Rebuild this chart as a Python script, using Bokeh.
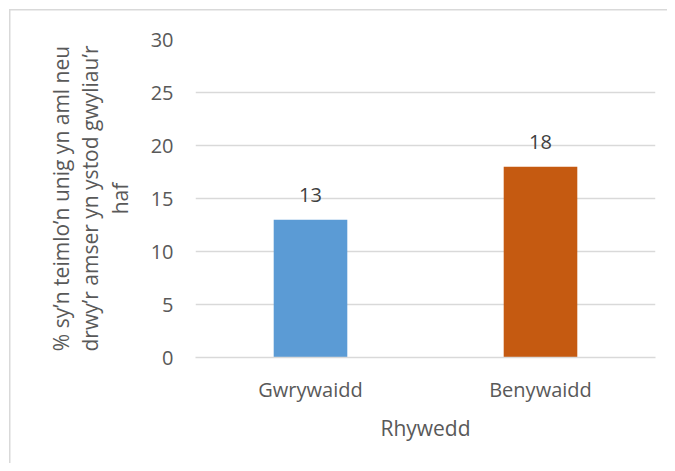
from bokeh.plotting import figure
from bokeh.models import ColumnDataSource, Range1d, FactorRange, FixedTicker
from bokeh.core.properties import value
from bokeh.embed import file_html
from bokeh.resources import INLINE

categories = ["Gwrywaidd", "Benywaidd"]
values = [13, 18]
colors = ["#5B9BD5", "#C55A11"]
labels = ["13", "18"]
y_ticks = [0, 5, 10, 15, 20, 25, 30]

src = ColumnDataSource(dict(cat=categories, val=values, color=colors, lab=labels))

FONT = "Open Sans"
GREY = "#595959"

p = figure(width=667, height=463, output_backend="svg", toolbar_location=None,
           x_range=FactorRange(*categories, range_padding=0), y_range=Range1d(0, 30),
           min_border_left=195, min_border_right=12, min_border_top=39, min_border_bottom=106)
p.outline_line_color = None
p.border_fill_color = None
p.background_fill_color = "white"
# light chart-area border on the left and top edges
p.styles = {
    "background": "linear-gradient(#D9D9D9, #D9D9D9) 9px 9px / 1.5px 100% no-repeat, "
                  "linear-gradient(#D9D9D9, #D9D9D9) 9px 9px / 100% 1.5px no-repeat, white"
}

p.vbar(x="cat", top="val", width=0.32, fill_color="color", line_color=None, source=src)
p.text(x="cat", y="val", text="lab", source=src, text_align="center", text_baseline="bottom",
       y_offset=-18, text_font=value(FONT), text_font_size="20px", text_color="#404040")

p.yaxis.ticker = FixedTicker(ticks=y_ticks)
p.yaxis.axis_line_color = None
p.yaxis.major_tick_line_color = None
p.yaxis.minor_tick_line_color = None
p.yaxis.major_tick_out = 0
p.yaxis.major_label_standoff = 22
p.yaxis.major_label_text_font = FONT
p.yaxis.major_label_text_font_size = "20px"
p.yaxis.major_label_text_color = GREY
p.yaxis.axis_label = "% sy\u2019n teimlo\u2019n unig yn aml neu\ndrwy\u2019r amser yn ystod gwyliau\u2019r\nhaf"
p.yaxis.axis_label_text_font = FONT
p.yaxis.axis_label_text_font_size = "21px"
p.yaxis.axis_label_text_font_style = "normal"
p.yaxis.axis_label_text_color = GREY
p.yaxis.axis_label_text_line_height = 1.05
p.yaxis.axis_label_standoff = 14

p.xaxis.axis_line_color = "#D9D9D9"
p.xaxis.axis_line_width = 1.5
p.xaxis.major_tick_line_color = None
p.xaxis.minor_tick_line_color = None
p.xaxis.major_tick_out = 0
p.xaxis.major_label_standoff = 18
p.xaxis.major_label_text_font = FONT
p.xaxis.major_label_text_font_size = "20px"
p.xaxis.major_label_text_color = GREY
p.xaxis.axis_label = "Rhywedd"
p.xaxis.axis_label_text_font = FONT
p.xaxis.axis_label_text_font_size = "21px"
p.xaxis.axis_label_text_font_style = "normal"
p.xaxis.axis_label_text_color = GREY
p.xaxis.axis_label_standoff = 8

p.xgrid.grid_line_color = None
p.ygrid.grid_line_color = "#D9D9D9"
p.ygrid.grid_line_width = 1.5

open("out.html", "w").write(file_html(p, INLINE))
